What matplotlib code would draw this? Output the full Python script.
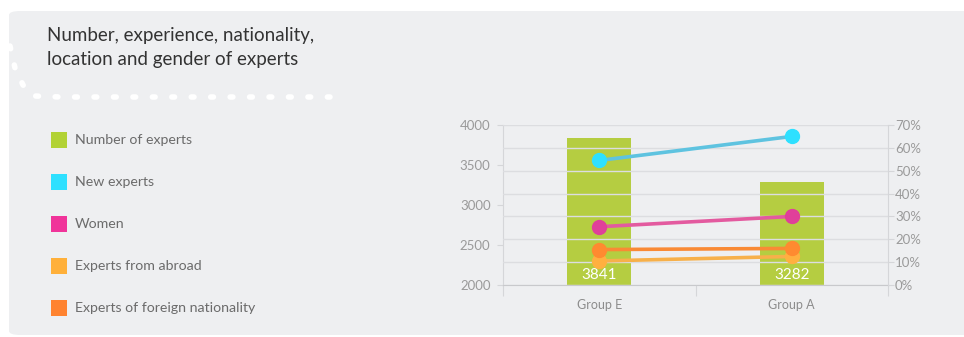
import matplotlib.pyplot as plt
from matplotlib.patches import FancyBboxPatch, Rectangle
from matplotlib.lines import Line2D
import numpy as np

plt.rcParams['font.family'] = ['Lato', 'DejaVu Sans']

groups = ['Group E', 'Group A']
num_experts = [3841, 3282]
new_experts = [54.5, 65.0]
women = [25.5, 30.0]
abroad = [10.5, 12.5]
foreign = [15.5, 16.0]

legend_labels = ['Number of experts', 'New experts', 'Women',
                 'Experts from abroad', 'Experts of foreign nationality']
legend_colors = ['#b2d235', '#2ee0ff', '#f0349a', '#ffb03a', '#ff8330']

W, H = 964, 337
fig = plt.figure(figsize=(W / 100, H / 100), dpi=100, facecolor='white')

def fx(px):
    return px / W

def fy(py):
    return 1 - py / H

# panel background
panel = FancyBboxPatch((fx(9), fy(335)), fx(975) - fx(9), fy(11) - fy(335),
                       boxstyle='round,pad=0,rounding_size=0.012',
                       transform=fig.transFigure, facecolor='#eeeff1',
                       edgecolor='none', zorder=-5)
fig.patches.append(panel)

# white dotted decoration
dx = [10, 15, 23, 35, 60, 330]
dy = [46, 68, 85, 96, 97, 97]
fig.add_artist(Line2D([fx(v) for v in dx], [fy(v) for v in dy],
                      transform=fig.transFigure, color='white', lw=4,
                      linestyle=(0, (0.5, 3.0)), solid_capstyle='round',
                      dash_capstyle='round', zorder=1))

fig.text(fx(47), fy(47.5), 'Number, experience, nationality,\nlocation and gender of experts',
         fontsize=13.5, color='#333333', va='center', ha='left', linespacing=1.5)

# legend
for i, (lab, col) in enumerate(zip(legend_labels, legend_colors)):
    yc = 140 + i * 42
    fig.patches.append(Rectangle((fx(51), fy(yc + 8)), fx(16), fy(0) - fy(16),
                                 transform=fig.transFigure, facecolor=col,
                                 edgecolor='none', zorder=2))
    fig.text(fx(75), fy(yc), lab, fontsize=10.2, color='#6b6b6b',
             va='center', ha='left')

ax = fig.add_axes([fx(503), fy(285), fx(888) - fx(503), fy(125) - fy(285)])
ax.set_facecolor('none')
x = np.arange(len(groups))
bars = ax.bar(x, num_experts, width=0.33, color='#b5cd41', zorder=2)
for xi, v in zip(x, num_experts):
    ax.text(xi, 2000 + 120, str(v), color='white', fontsize=11,
            ha='center', va='center', zorder=3)
ax.set_ylim(2000, 4000)
ax.set_yticks(np.arange(2000, 4001, 500))
ax.set_xlim(-0.5, 1.5)
ax.set_xticks([-0.5, 0.5, 1.5])
ax.set_xticklabels([])
ax.set_xticks(x, minor=True)
ax.set_xticklabels(groups, minor=True)
ax.tick_params(axis='x', which='major', length=8, color='#d5d6d9')
ax.tick_params(axis='x', which='minor', length=0, pad=10, labelsize=9,
               labelcolor='#8c8c8c')
ax.tick_params(axis='y', length=4, color='#d5d6d9', labelsize=9.5,
               labelcolor='#9a9a9a', pad=5)
for s in ['top', 'right']:
    ax.spines[s].set_visible(False)
ax.spines['left'].set_color('#d5d6d9')
ax.spines['bottom'].set_color('#c8c9cc')

ax2 = ax.twinx()
ax2.set_ylim(0, 70)
ax2.set_yticks(np.arange(0, 71, 10))
ax2.set_yticklabels([f'{v}%' for v in range(0, 71, 10)])
ax2.tick_params(axis='y', length=4, color='#d5d6d9', labelsize=9.5,
                labelcolor='#9a9a9a', pad=1)
ax2.grid(axis='y', color='#dcdde0', lw=1, zorder=0)
ax2.set_axisbelow(True)
for s in ['top', 'left', 'bottom']:
    ax2.spines[s].set_visible(False)
ax2.spines['right'].set_color('#d5d6d9')

series = [(new_experts, '#5ec3e0', '#2ee0ff'),
          (women, '#e35a9f', '#e0409a'),
          (abroad, '#f7b04a', '#ffb040'),
          (foreign, '#f98a35', '#ff8a30')]
for vals, lc, mc in series:
    ax2.plot(x, vals, color=lc, lw=2.6, marker='o', markersize=10,
             markerfacecolor=mc, markeredgecolor=mc, zorder=4)

fig.savefig('out.png', dpi=100, facecolor='white')
